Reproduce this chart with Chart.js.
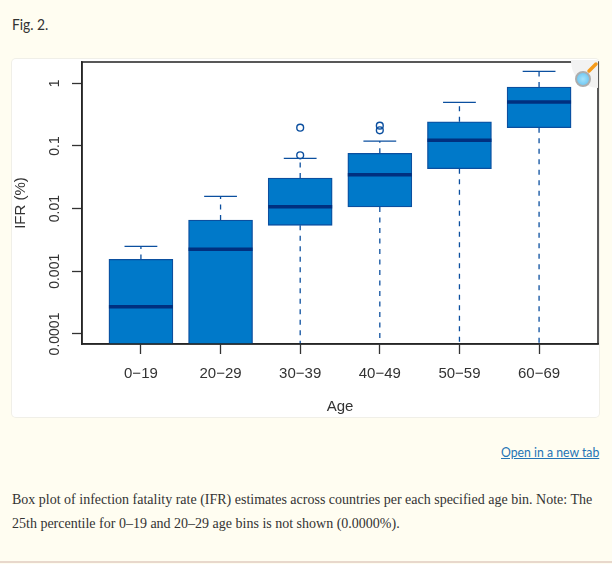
<!DOCTYPE html>
<html>
<head>
<meta charset="utf-8">
<script src="https://cdn.jsdelivr.net/npm/chart.js@4"></script>
<style>
    html, body { margin: 0; padding: 0; }
    body { width: 612px; height: 564px; background: #fffdf1; position: relative; overflow: hidden; }
    #figLabel { position: absolute; left: 12px; top: 15px; font: 15px Lato, sans-serif; color: #333; transform: scaleX(.92); transform-origin: left; }
    #card { position: absolute; left: 12px; top: 59px; width: 587px; height: 358px; background: #fff; border-radius: 4px; box-shadow: 0 0 0 1px #f0efe8; }
    #card canvas { display: block; }
    #lens { position: absolute; left: 559px; top: 0px; }
    #link { position: absolute; right: 13px; top: 443px; font: 14px Lato, sans-serif; color: #2474b5; text-decoration: underline; transform: scaleX(.875); transform-origin: right; }
    #caption { position: absolute; left: 12px; top: 488px; width: 590px; font: 14px/24px "Liberation Serif", serif; color: #333; }
    #footer { position: absolute; left: 0; top: 561px; width: 612px; height: 2px; background: #e8d8cc; }
</style>
</head>
<body>
<div id="figLabel">Fig. 2.</div>
<div id="card">
    <canvas id="boxChart" width="587" height="358"></canvas>
    <svg id="lens" width="28" height="29" viewBox="0 0 28 29">
        <defs>
            <radialGradient id="glass">
                <stop offset="0" stop-color="#a8e3fb"/>
                <stop offset="1" stop-color="#6cc6f2"/>
            </radialGradient>
        </defs>
        <path d="M0 1 H27 V29 A27 27 0 0 1 0 1 Z" fill="#f2f2f2"/>
        <line x1="18" y1="12" x2="25" y2="5" stroke="#f59a1b" stroke-width="3.5" stroke-linecap="round"/>
        <circle cx="12" cy="20" r="7" fill="url(#glass)" stroke="#adadad" stroke-width="2"/>
    </svg>
</div>
<a id="link">Open in a new tab</a>
<div id="caption">Box plot of infection fatality rate (IFR) estimates across countries per each specified age bin. Note: The 25th percentile for 0–19 and 20–29 age bins is not shown (0.0000%).</div>
<div id="footer"></div>

<script>
const ageBins = ['0−19', '20−29', '30−39', '40−49', '50−59', '60−69'];
const positions = [1, 2, 3, 4, 5, 6];
const yTicks = [1, 0.1, 0.01, 0.001, 0.0001];

// 0 can't go on a log axis, so zero values use this and get clipped by the plot area
const zero = 0.00001;

const q1 = [zero, zero, 0.00542, 0.01063, 0.0435, 0.196];
const medians = [0.000273, 0.00224, 0.01076, 0.0349, 0.123, 0.504];
const q3 = [0.00155, 0.00659, 0.0308, 0.0764, 0.244, 0.874];
const upperWhisker = [0.0025, 0.0157, 0.0636, 0.12, 0.497, 1.55];
const lowerWhisker = [null, null, zero, zero, zero, zero];
const outlierBins = [3, 3, 4, 4];
const outlierValues = [0.071, 0.196, 0.178, 0.211];

const boxBlue = '#0079c9';
const edgeBlue = '#0b4f9f';
const axisColor = '#333333';
const tickFont = { family: '"Liberation Sans", Arial, sans-serif', size: 14 };
const labelFont = { family: '"Liberation Sans", Arial, sans-serif', size: 15 };

// whiskers share one dashed line, nulls break it between segments
const whiskerPoints = [];
positions.forEach((x, i) => {
    whiskerPoints.push({ x: x, y: q3[i] }, { x: x, y: upperWhisker[i] }, { x: x, y: null });
    if (lowerWhisker[i] !== null) {
        whiskerPoints.push({ x: x, y: q1[i] }, { x: x, y: lowerWhisker[i] }, { x: x, y: null });
    }
});

// R style box around the plot
const plotBox = {
    id: 'plotBox',
    afterDatasetsDraw(chart) {
        const area = chart.chartArea;
        const ctx = chart.ctx;
        ctx.save();
        ctx.strokeStyle = '#222222';
        ctx.lineWidth = 1.5;
        ctx.strokeRect(area.left, area.top, area.right - area.left, area.bottom - area.top);
        ctx.restore();
    }
};

// rotated labels make the scale reserve margins, the plot area should fill the canvas
function clearPadding(scale) {
    scale.paddingTop = 0;
    scale.paddingBottom = 0;
    scale.paddingLeft = 0;
    scale.paddingRight = 0;
}

new Chart(document.getElementById('boxChart').getContext('2d'), {
    type: 'bar',
    plugins: [plotBox],
    data: {
        datasets: [
            {
                type: 'line',
                label: 'Whiskers',
                data: whiskerPoints,
                borderColor: edgeBlue,
                borderWidth: 1.3,
                borderDash: [5, 5.5],
                pointRadius: 0,
                spanGaps: false,
                order: 3
            },
            {
                type: 'bar',
                label: 'IQR',
                data: positions.map((x, i) => ({ x: x, y: [q1[i], q3[i]] })),
                backgroundColor: boxBlue,
                borderColor: edgeBlue,
                borderWidth: 1.3,
                borderSkipped: false,
                barThickness: 64,
                order: 2
            },
            {
                type: 'line',
                label: 'Median',
                data: positions.map((x, i) => ({ x: x, y: medians[i] })),
                showLine: false,
                pointStyle: 'line',
                pointRadius: 32,
                pointBorderWidth: 3.5,
                pointBorderColor: '#00307f',
                order: 1
            },
            {
                type: 'line',
                label: 'Caps',
                data: positions.map((x, i) => ({ x: x, y: upperWhisker[i] })),
                showLine: false,
                pointStyle: 'line',
                pointRadius: 16.4,
                pointBorderWidth: 1.3,
                pointBorderColor: edgeBlue,
                order: 1
            },
            {
                type: 'line',
                label: 'Outliers',
                data: outlierBins.map((x, i) => ({ x: x, y: outlierValues[i] })),
                showLine: false,
                pointStyle: 'circle',
                pointRadius: 3.4,
                pointBorderWidth: 1.4,
                pointBorderColor: edgeBlue,
                pointBackgroundColor: 'transparent',
                order: 1
            }
        ]
    },
    options: {
        responsive: false,
        animation: false,
        layout: { autoPadding: false, padding: { top: 3, right: 1 } },
        plugins: { legend: { display: false }, tooltip: { enabled: false } },
        scales: {
            x: {
                type: 'linear',
                offset: false,
                min: 0.26,
                max: 6.74,
                grid: { offset: false, drawOnChartArea: false, tickLength: 10, tickColor: axisColor, tickWidth: 1.3 },
                border: { color: axisColor, width: 1.5 },
                ticks: {
                    autoSkip: false,
                    maxRotation: 0,
                    padding: 11,
                    color: axisColor,
                    font: labelFont,
                    callback: value => ageBins[value - 1]
                },
                title: { display: true, text: 'Age', color: axisColor, font: labelFont, padding: { top: 8, bottom: 1 } },
                afterBuildTicks: scale => { scale.ticks = positions.map(v => ({ value: v })); },
                afterFit: scale => { scale.height = 73; clearPadding(scale); }
            },
            y: {
                type: 'logarithmic',
                min: 0.0000692,
                max: 2.19,
                grid: { drawOnChartArea: false, tickLength: 10, tickColor: axisColor, tickWidth: 1.3 },
                border: { color: axisColor, width: 1.5 },
                ticks: {
                    autoSkip: false,
                    minRotation: 90,
                    maxRotation: 90,
                    crossAlign: 'center',
                    padding: -5,
                    color: axisColor,
                    font: tickFont,
                    callback: value => String(value)
                },
                title: { display: true, text: 'IFR (%)', color: axisColor, font: labelFont, padding: 0 },
                afterBuildTicks: scale => { scale.ticks = yTicks.map(v => ({ value: v })); },
                afterFit: scale => { scale.width = 70; clearPadding(scale); }
            }
        }
    }
});
</script>
</body>
</html>
